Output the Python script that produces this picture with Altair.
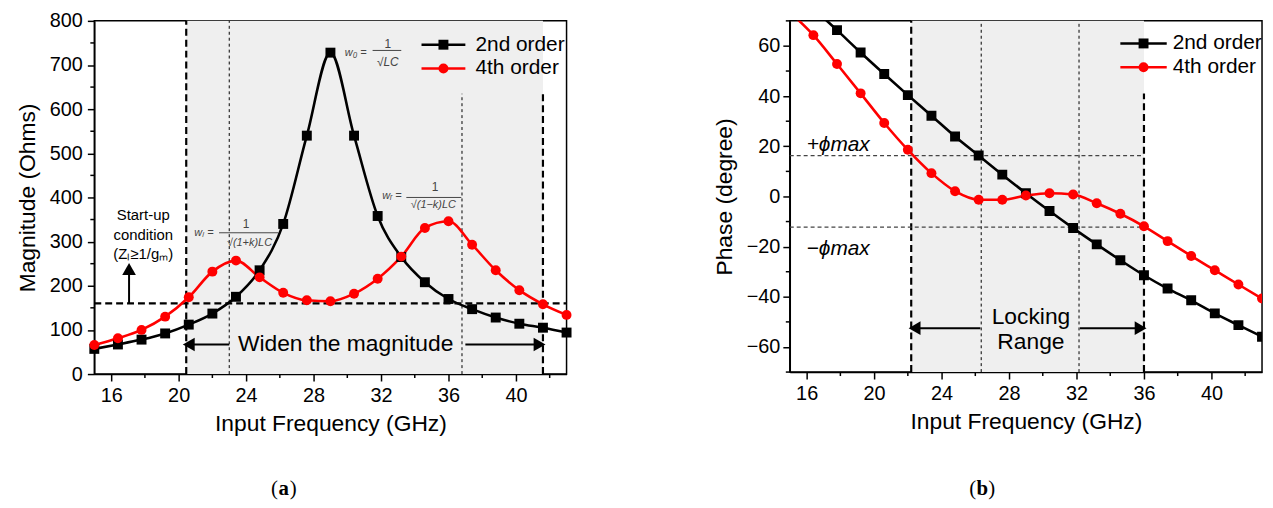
import altair as alt
import pandas as pd

# ---------------- data ----------------
freq = [15, 16.4, 17.8, 19.2, 20.6, 22, 23.4, 24.8, 26.2, 27.6, 29,
        30.4, 31.8, 33.2, 34.6, 36, 37.4, 38.8, 40.2, 41.6, 43]
mag_2nd = [57, 67, 78, 92, 112, 137, 175, 235, 340, 540, 728,
           540, 358, 265, 208, 170, 147, 128, 114, 105, 94]
mag_4th = [66, 81, 100, 130, 174, 232, 257, 219, 184, 167, 165,
           182, 216, 266, 331, 346, 293, 235, 190, 158, 134]
phase_2nd = [84, 75, 66.3, 57.4, 48.8, 40.4, 32.2, 23.9, 16.3, 8.7, 1.3,
             -5.8, -12.6, -19.1, -25.4, -31.4, -36.7, -41.4, -46.6, -51.3, -55.9]
phase_4th = [73.5, 64.3, 52.8, 41.1, 29.3, 18.6, 9.3, 2.1, -1.3, -1.3, 0.4,
             1.3, 0.8, -2.7, -6.9, -11.9, -17.8, -23.7, -29.4, -35.1, -40.7]
series = ["2nd order", "4th order"]
colors = ["#000000", "#ff0000"]
shapes = ["square", "circle"]

x_major = [16, 20, 24, 28, 32, 36, 40]
x_minor = [18, 22, 26, 30, 34, 38, 42]
mag_major = [0, 100, 200, 300, 400, 500, 600, 700, 800]
mag_minor = [50, 150, 250, 350, 450, 550, 650, 750]
phase_major = [-60, -40, -20, 0, 20, 40, 60]
phase_minor = [-70, -50, -30, -10, 10, 30, 50, 70]

FONT = "Liberation Sans"
W = 476
HA = 356
HB = 354
XDOM = [15, 43]


def long_df(a, b):
    rows = []
    for f, va, vb in zip(freq, a, b):
        rows.append({"f": f, "v": va, "s": series[0]})
        rows.append({"f": f, "v": vb, "s": series[1]})
    return pd.DataFrame(rows)


def xaxis():
    return alt.Axis(values=x_major, title="Input Frequency (GHz)", tickSize=7,
                    labelOverlap=False, labelPadding=5, titlePadding=7, labelFlush=False)


def yaxis(vals, title, lp):
    return alt.Axis(values=vals, title=title, tickSize=7,
                    labelOverlap=False, labelPadding=lp, titlePadding=10, labelFlush=False)


def build_panel(df, ydom, H, yax, ymin, clip, shade, vthick, vthin, hlines, texts, arrows,
                legend_pos, formulas, caption_x):
    xs = alt.Scale(domain=XDOM, nice=False, zero=False)
    ys = alt.Scale(domain=ydom, nice=False, zero=False)
    cs = alt.Scale(domain=series, range=colors)
    ss = alt.Scale(domain=series, range=shapes)
    layers = []

    # shaded band
    layers.append(alt.Chart(pd.DataFrame([{"a": shade[0], "b": shade[1]}])).mark_rect(
        color="#efefef").encode(
        x=alt.X("a:Q", scale=xs, axis=xaxis()), x2="b:Q",
        y=alt.value(0), y2=alt.value(H)))

    # guide lines
    thick = pd.DataFrame([{"x": x, "y1": y1, "y2": y2} for x, y1, y2 in vthick])
    layers.append(alt.Chart(thick).mark_rule(color="black", strokeWidth=2.2, strokeDash=[7, 4]).encode(
        x=alt.X("x:Q", scale=xs), y=alt.Y("y1:Q", scale=ys, axis=yax), y2="y2:Q"))
    thin = pd.DataFrame([{"x": x, "y1": y1, "y2": y2} for x, y1, y2 in vthin])
    layers.append(alt.Chart(thin).mark_rule(color="black", strokeWidth=1, strokeDash=[3, 3]).encode(
        x=alt.X("x:Q", scale=xs), y=alt.Y("y1:Q", scale=ys), y2="y2:Q"))
    for (y, x1, x2, sw, dash, col) in hlines:
        layers.append(alt.Chart(pd.DataFrame([{"y": y, "x1": x1, "x2": x2}])).mark_rule(
            color=col, strokeWidth=sw, strokeDash=dash).encode(
            y=alt.Y("y:Q", scale=ys), x=alt.X("x1:Q", scale=xs), x2="x2:Q"))

    # minor ticks (outside the plot, positioned by the scales)
    layers.append(alt.Chart(pd.DataFrame({"t": x_minor})).mark_rule(color="black", strokeWidth=1.5).encode(
        x=alt.X("t:Q", scale=xs), y=alt.value(H), y2=alt.value(H + 4)))
    layers.append(alt.Chart(pd.DataFrame({"t": ymin})).mark_rule(color="black", strokeWidth=1.5).encode(
        y=alt.Y("t:Q", scale=ys), x=alt.value(-4), x2=alt.value(0)))

    # data
    layers.append(alt.Chart(df).mark_line(strokeWidth=2.6, interpolate="monotone", clip=clip).encode(
        x=alt.X("f:Q", scale=xs), y=alt.Y("v:Q", scale=ys),
        color=alt.Color("s:N", scale=cs, legend=None), detail="s:N"))
    layers.append(alt.Chart(df).mark_point(filled=True, size=100, opacity=1, clip=clip).encode(
        x=alt.X("f:Q", scale=xs), y=alt.Y("v:Q", scale=ys),
        color=alt.Color("s:N", scale=cs, legend=None),
        shape=alt.Shape("s:N", scale=ss, legend=None)))

    # arrows
    for (x1, y1, x2, y2, shape) in arrows:
        layers.append(alt.Chart(pd.DataFrame([{"x1": x1, "y1": y1, "x2": x2, "y2": y2}])).mark_rule(
            color="black", strokeWidth=2).encode(
            x=alt.X("x1:Q", scale=xs), y=alt.Y("y1:Q", scale=ys), x2="x2:Q", y2="y2:Q"))
        layers.append(alt.Chart(pd.DataFrame([{"x": x2, "y": y2}])).mark_point(
            shape=shape, filled=True, size=190, color="black", opacity=1).encode(
            x=alt.X("x:Q", scale=xs), y=alt.Y("y:Q", scale=ys)))

    # texts
    for (x, y, t, size, style, align) in texts:
        layers.append(alt.Chart(pd.DataFrame([{"x": x, "y": y, "t": t}])).mark_text(
            font=FONT, fontSize=size, fontStyle=style, color="black", align=align, baseline="middle").encode(
            x=alt.X("x:Q", scale=xs), y=alt.Y("y:Q", scale=ys), text="t:N"))

    # formulas (gray italic small)
    for item in formulas:
        if item[0] == "bar":
            _, x1, x2, y = item
            layers.append(alt.Chart(pd.DataFrame([{"x1": x1, "x2": x2, "y": y}])).mark_rule(
                color="#444444", strokeWidth=1).encode(
                x=alt.X("x1:Q", scale=xs), x2="x2:Q", y=alt.Y("y:Q", scale=ys)))
        else:
            _, x, y, t, size, style = item
            layers.append(alt.Chart(pd.DataFrame([{"x": x, "y": y, "t": t}])).mark_text(
                font=FONT, fontSize=size, fontStyle=style, color="#444444", align="center",
                baseline="middle").encode(
                x=alt.X("x:Q", scale=xs), y=alt.Y("y:Q", scale=ys), text="t:N"))

    # manual legend
    lx1, lx2, ltx, ly = legend_pos
    for i, s in enumerate(series):
        layers.append(alt.Chart(pd.DataFrame([{"x1": lx1, "x2": lx2, "y": ly[i]}])).mark_rule(
            color=colors[i], strokeWidth=2.6).encode(
            x=alt.X("x1:Q", scale=xs), x2="x2:Q", y=alt.Y("y:Q", scale=ys)))
        layers.append(alt.Chart(pd.DataFrame([{"x": (lx1 + lx2) / 2, "y": ly[i]}])).mark_point(
            shape=shapes[i], filled=True, size=100, color=colors[i], opacity=1).encode(
            x=alt.X("x:Q", scale=xs), y=alt.Y("y:Q", scale=ys)))
        layers.append(alt.Chart(pd.DataFrame([{"x": ltx, "y": ly[i], "t": s}])).mark_text(
            font=FONT, fontSize=21, color="black", align="left", baseline="middle").encode(
            x=alt.X("x:Q", scale=xs), y=alt.Y("y:Q", scale=ys), text="t:N"))

    # caption "(a)" / "(b)"
    cx, letter = caption_x
    cy = 472
    cap = pd.DataFrame([{"t": "x"}])
    layers.append(alt.Chart(cap).mark_text(font="Liberation Serif", fontSize=21, color="black",
                                           align="right", baseline="middle").encode(
        x=alt.value(cx - 6), y=alt.value(cy), text=alt.value("(")))
    layers.append(alt.Chart(cap).mark_text(font="Liberation Serif", fontSize=21, fontWeight="bold",
                                           color="black", align="center", baseline="middle").encode(
        x=alt.value(cx), y=alt.value(cy), text=alt.value(letter)))
    layers.append(alt.Chart(cap).mark_text(font="Liberation Serif", fontSize=21, color="black",
                                           align="left", baseline="middle").encode(
        x=alt.value(cx + 6), y=alt.value(cy), text=alt.value(")")))

    return alt.layer(*layers).properties(width=W, height=H)


left = build_panel(
    long_df(mag_2nd, mag_4th), [0, 800], HA,
    yaxis(mag_major, "Magnitude (Ohms)", 5), mag_minor, False,
    shade=(20.45, 41.6),
    vthick=[(20.45, 0, 800), (41.6, 0, 640)],
    vthin=[(23.0, 0, 800), (36.8, 0, 635)],
    hlines=[(160, 15, 43, 2.2, [7, 4], "black")],
    texts=[(29.9, 69, "Widen the magnitude", 23, "normal", "center"),
           (17.9, 360, "Start-up", 15, "normal", "center"),
           (17.9, 316, "condition", 15, "normal", "center"),
           (17.9, 272, "(Zₗ≥1/gₘ)", 15, "normal", "center")],
    arrows=[(23.0, 67, 20.6, 67, "triangle-left"),
            (37.0, 67, 41.4, 67, "triangle-right"),
            (17.06, 160, 17.06, 238, "triangle-up")],
    legend_pos=(34.4, 37.0, 37.6, [746, 692]),
    formulas=[("t", 30.5, 727, "w₀ =", 11, "italic"),
              ("t", 32.4, 748, "1", 12, "normal"),
              ("bar", 31.5, 33.2, 733),
              ("t", 32.4, 706, "√LC", 12, "italic"),
              ("t", 21.5, 320, "wₗ =", 11, "italic"),
              ("t", 24.0, 339, "1", 12, "normal"),
              ("bar", 22.4, 25.9, 320),
              ("t", 24.2, 296, "√(1+k)LC", 11, "italic"),
              ("t", 32.65, 404, "wᵣ =", 11, "italic"),
              ("t", 35.2, 423, "1", 12, "normal"),
              ("bar", 33.5, 36.76, 400),
              ("t", 35.1, 383, "√(1−k)LC", 11, "italic")],
    caption_x=(191, "a"),
)

right = build_panel(
    long_df(phase_2nd, phase_4th), [-70, 70], HB,
    yaxis(phase_major, "Phase (degree)", 3), phase_minor, True,
    shade=(22.2, 36.0),
    vthick=[(22.2, -70, 70), (36.0, -70, 41)],
    vthin=[(26.35, -70, 70), (32.15, -70, 70)],
    hlines=[(16.3, 15, 36.0, 1.2, [4, 3], "#444444"),
            (-12.2, 15, 36.0, 1.2, [4, 3], "#444444")],
    texts=[(29.3, -48, "Locking", 23, "normal", "center"),
           (29.3, -58, "Range", 23, "normal", "center"),
           (16.0, 20.5, "+ϕmax", 21, "italic", "left"),
           (16.0, -21, "−ϕmax", 21, "italic", "left")],
    arrows=[(26.3, -52.5, 22.4, -52.5, "triangle-left"),
            (32.2, -52.5, 35.8, -52.5, "triangle-right")],
    legend_pos=(34.6, 37.35, 37.7, [61, 51.5]),
    formulas=[],
    caption_x=(194, "b"),
)

chart = alt.hconcat(left, right, spacing=141).properties(
    padding={"left": 7, "top": 0, "right": 2, "bottom": 0}
).configure_view(stroke="black", strokeWidth=1.5).configure_axis(
    domainColor="black", domainWidth=1.5, tickColor="black", tickWidth=1.5,
    labelFont=FONT, labelFontSize=20, labelColor="black",
    titleFont=FONT, titleFontSize=23, titleFontWeight="normal", titleColor="black",
    grid=False,
)

chart.save("out.html", embed_options={"renderer": "svg", "actions": False})
